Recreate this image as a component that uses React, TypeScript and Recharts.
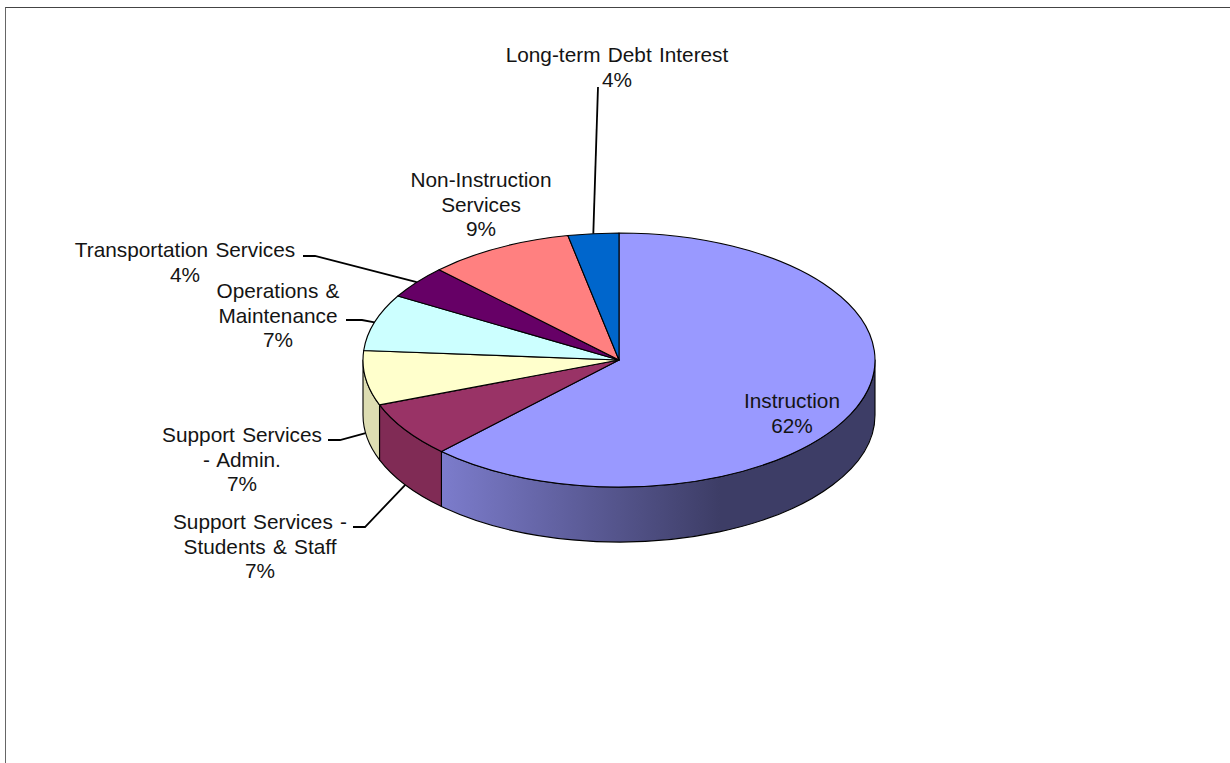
import { PieChart, Pie } from 'recharts'

// ── Data ──────────────────────────────────────────────────────────────────────
// Clockwise from 12 o'clock. Shares are measured off the slices, the printed
// percentages are kept apart because they are what the chart actually says.

const categories = [
  'Instruction',
  'Support Services -\nStudents & Staff',
  'Support Services\n- Admin.',
  'Operations &\nMaintenance',
  'Transportation Services',
  'Non-Instruction\nServices',
  'Long-term Debt Interest',
]
const shares = [62.2, 7.05, 6.95, 7.2, 4.2, 9.2, 3.2]
const percentLabels = ['62%', '7%', '7%', '7%', '4%', '9%', '4%']
const topColors = ['#9999FF', '#993366', '#FFFFCC', '#CCFFFF', '#660066', '#FF8080', '#0066CC']
const sideColors = ['url(#instructionSide)', '#802B55', '#DDDDB2', '#AACCCC', '#550055', '#CC6666', '#0055AA']

const chartData = categories.map((name, i) => ({
  name,
  value: shares[i],
  topFill: topColors[i],
  sideFill: sideColors[i],
}))

// ── Layout ────────────────────────────────────────────────────────────────────

const WIDTH = 1230
const HEIGHT = 763
const CX = 619
const CY = 360
const RADIUS = 256
const SQUASH = 127 / 256 // tilt of the pie
const DEPTH = 55
const LINE_HEIGHT = 24.6

// first baseline of each label, and the leader's elbow points (none for labels inside or next to the pie)
const LABEL_POS = [
  { x: 792, y: 408, leader: [] },
  { x: 260, y: 529, leader: [[365, 527], [353, 527]] },
  { x: 242, y: 442, leader: [[340, 440], [328, 440]] },
  { x: 278, y: 298, leader: [[362, 320], [346, 320]] },
  { x: 185, y: 257, leader: [[315, 256], [303, 256]] },
  { x: 481, y: 187, leader: [] },
  { x: 617, y: 62, leader: [[598, 87]] },
]

const TEXT_COLOR = '#141414'

// ── Elliptical geometry ───────────────────────────────────────────────────────

function pt(cx: number, cy: number, r: number, deg: number) {
  const a = (deg * Math.PI) / 180
  return { x: cx + r * Math.cos(a), y: cy - r * SQUASH * Math.sin(a) }
}

function TopFace(props: any) {
  const { cx, cy, outerRadius: r, startAngle, endAngle, payload } = props
  const p0 = pt(cx, cy, r, startAngle)
  const p1 = pt(cx, cy, r, endAngle)
  const large = startAngle - endAngle > 180 ? 1 : 0
  const d = `M${cx},${cy} L${p0.x},${p0.y} A${r},${r * SQUASH} 0 ${large} 1 ${p1.x},${p1.y} Z`
  return <path d={d} fill={payload.topFill} stroke="#000" strokeWidth={1.1} strokeLinejoin="round" />
}

function SideFace(props: any) {
  const { cx, cy, outerRadius: r, startAngle, endAngle, payload } = props
  // only the front half of the rim is visible
  const from = Math.min(startAngle, 0)
  const to = Math.max(endAngle, -180)
  if (from <= to) return <g />
  const p0 = pt(cx, cy, r, from)
  const p1 = pt(cx, cy, r, to)
  const ry = r * SQUASH
  const d =
    `M${p0.x},${p0.y} A${r},${ry} 0 0 1 ${p1.x},${p1.y} ` +
    `L${p1.x},${p1.y + DEPTH} A${r},${ry} 0 0 0 ${p0.x},${p0.y + DEPTH} Z`
  return (
    <g>
      <defs>
        <linearGradient id="instructionSide" gradientUnits="userSpaceOnUse" x1={441} y1={0} x2={720} y2={0}>
          <stop offset="0" stopColor="#7C7CCC" />
          <stop offset="1" stopColor="#3D3D66" />
        </linearGradient>
      </defs>
      <path d={d} fill={payload.sideFill} stroke="#000" strokeWidth={1.1} strokeLinejoin="round" />
    </g>
  )
}

function SliceLabel(props: any) {
  const { cx, cy, outerRadius: r, midAngle, index } = props
  const pos = LABEL_POS[index]
  const lines = [...categories[index].split('\n'), percentLabels[index]]

  let leader = null
  if (pos.leader.length) {
    const a = pt(cx, cy, r, midAngle)
    // lower slices get their leader from the bottom of the rim
    const startY = Math.sin((midAngle * Math.PI) / 180) < 0 ? a.y + DEPTH : a.y
    const points = [[a.x, startY], ...pos.leader].map((p) => p.join(',')).join(' ')
    leader = <polyline points={points} fill="none" stroke="#000" strokeWidth={1.8} />
  }

  return (
    <g>
      {leader}
      <text
        textAnchor="middle"
        fontFamily="Liberation Sans, Arial, sans-serif"
        fontSize={20.8}
        wordSpacing={1.5}
        fill={TEXT_COLOR}
      >
        {lines.map((line, i) => (
          <tspan key={i} x={pos.x} y={pos.y + i * LINE_HEIGHT}>
            {line}
          </tspan>
        ))}
      </text>
    </g>
  )
}

export default function App() {
  return (
    <div style={{ position: 'absolute', left: 0, top: 0, width: WIDTH, height: HEIGHT, background: '#fff', overflow: 'hidden' }}>
      <div
        style={{
          position: 'absolute',
          left: 5,
          top: 7,
          right: -2,
          bottom: -2,
          borderTop: '1px solid #444',
          borderLeft: '1px solid #666',
        }}
      />
      <div style={{ position: 'absolute', left: 0, top: 0 }}>
        <PieChart width={WIDTH} height={HEIGHT} margin={{ top: 0, right: 0, bottom: 0, left: 0 }}>
          <Pie
            data={chartData}
            dataKey="value"
            cx={CX}
            cy={CY}
            outerRadius={RADIUS}
            startAngle={90}
            endAngle={-270}
            shape={SideFace}
            label={false}
            labelLine={false}
            isAnimationActive={false}
          />
          <Pie
            data={chartData}
            dataKey="value"
            cx={CX}
            cy={CY}
            outerRadius={RADIUS}
            startAngle={90}
            endAngle={-270}
            shape={TopFace}
            label={SliceLabel}
            labelLine={false}
            isAnimationActive={false}
          />
        </PieChart>
      </div>
    </div>
  )
}
